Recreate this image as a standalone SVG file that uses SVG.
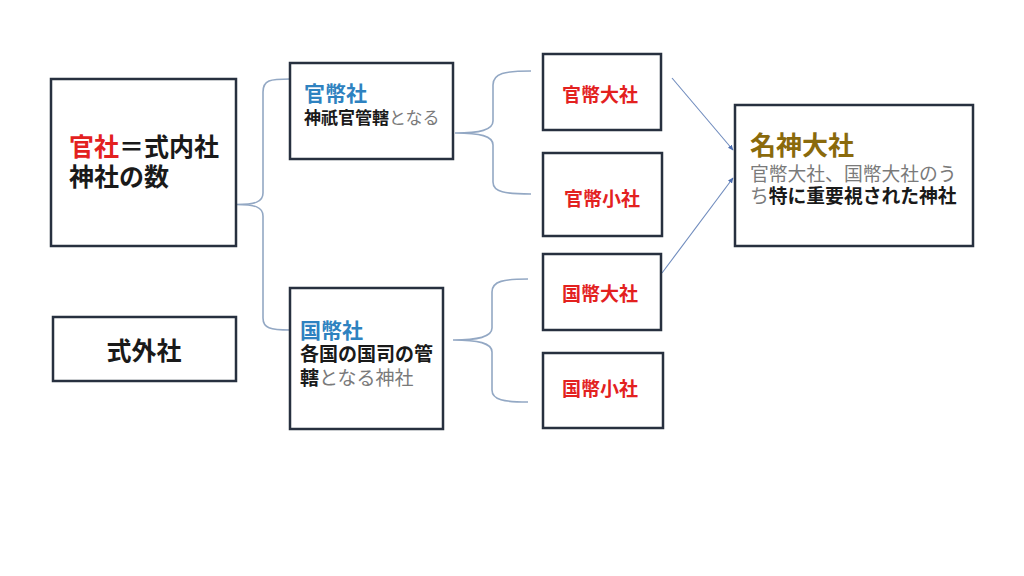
<svg xmlns="http://www.w3.org/2000/svg" width="1024" height="576" viewBox="0 0 1024 576">
<style>
.box{fill:#fff;stroke:#27303f;stroke-width:2.5}
.br{fill:none;stroke:#93a8c4;stroke-width:1.6}
.ar{fill:none;stroke:#6f8bbd;stroke-width:1.1}
text{font-family:"Noto Sans CJK JP","Noto Sans CJK SC",sans-serif}
.b{font-weight:bold}
.red{fill:#e3211f}
.blu{fill:#2e82c0}
.blk{fill:#1a1a1a}
.gry{fill:#7a7a7a;font-weight:normal}
.gold{fill:#8a6a0c}
</style>
<defs>
<marker id="ah" markerWidth="6" markerHeight="6" refX="5" refY="3" orient="auto" markerUnits="userSpaceOnUse">
<path d="M0,0.5 L5.5,3 L0,5.5 Z" fill="#4a6cb0"/>
</marker>
</defs>
<rect width="1024" height="576" fill="#fff"/>
<g id="connectors">
<path class="br" d="M290,79 C270,79 263,80 263,92 L263,193 C263,202 255,204.5 236,204.5 C255,204.5 263,207 263,216 L263,318 C263,328 270,330 290,330"/>
<path class="br" d="M531,71 C505,71 493,73 493,85 L493,121 C493,130 480,133 455,133 C480,133 493,136 493,145 L493,182 C493,192 505,194 531,194"/>
<path class="br" d="M528,279 C504,279 492,281 492,292 L492,328 C492,337 478,340 453,340 C478,340 492,343 492,352 L492,390 C492,400 504,402 528,402"/>
<line class="ar" x1="672" y1="78" x2="733" y2="150" marker-end="url(#ah)"/>
<line class="ar" x1="662" y1="273" x2="733" y2="178" marker-end="url(#ah)"/>
</g>
<g id="kansha">
<rect class="box" x="51" y="79" width="185" height="167"/>
<text x="69" y="156" font-size="25" class="b"><tspan class="red">官社</tspan><tspan class="blk">＝式内社</tspan></text>
<text x="69" y="186" font-size="25" class="b blk">神社の数</text>
</g>
<g id="shikigesha">
<rect class="box" x="53" y="317" width="183" height="64"/>
<text x="144" y="360" font-size="25" text-anchor="middle" class="b blk">式外社</text>
</g>
<g id="kanpeisha">
<rect class="box" x="290" y="63" width="163" height="96"/>
<text x="304" y="101" font-size="21" class="b blu">官幣社</text>
<text x="304" y="124" font-size="17" class="b blk">神祇官管轄<tspan class="gry">となる</tspan></text>
</g>
<g id="kokuheisha">
<rect class="box" x="290" y="288" width="153" height="141"/>
<text x="300" y="338" font-size="21" class="b blu">国幣社</text>
<text x="300" y="361" font-size="19" class="b blk">各国の国司の管</text>
<text x="300" y="385" font-size="19" class="b blk">轄<tspan class="gry">となる神社</tspan></text>
</g>
<g id="kanpei-taisha">
<rect class="box" x="543" y="54" width="118" height="76"/>
<text x="600" y="102" font-size="19" text-anchor="middle" class="b red">官幣大社</text>
</g>
<g id="kanpei-shosha">
<rect class="box" x="543" y="153" width="119" height="83"/>
<text x="602" y="206" font-size="19" text-anchor="middle" class="b red">官幣小社</text>
</g>
<g id="kokuhei-taisha">
<rect class="box" x="543" y="254" width="118" height="76"/>
<text x="600" y="301" font-size="19" text-anchor="middle" class="b red">国幣大社</text>
</g>
<g id="kokuhei-shosha">
<rect class="box" x="543" y="353" width="120" height="75"/>
<text x="600" y="396" font-size="19" text-anchor="middle" class="b red">国幣小社</text>
</g>
<g id="myojin-taisha">
<rect class="box" x="735" y="105" width="238" height="141"/>
<text x="750" y="155" font-size="26" class="b gold">名神大社</text>
<text x="750" y="181" font-size="18.8" class="gry">官幣大社、国幣大社のう</text>
<text x="750" y="203" font-size="18.8" class="b blk"><tspan class="gry">ち</tspan>特に重要視された神社</text>
</g>
</svg>
